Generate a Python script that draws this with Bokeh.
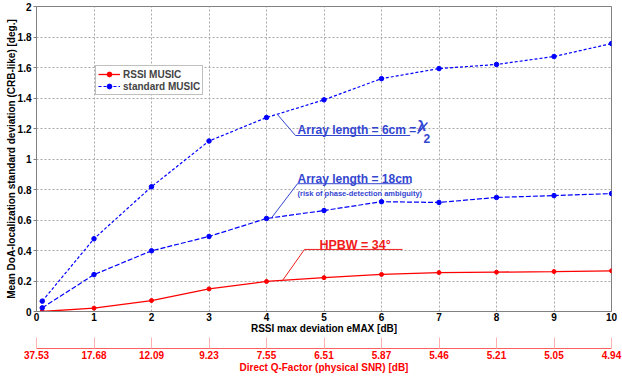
from bokeh.plotting import figure
from bokeh.models import (LinearAxis, FixedTicker, Legend, LegendItem, Label)
from bokeh.embed import file_html
from bokeh.resources import INLINE

# ---------------- data ----------------
emax = [0.1, 1, 2, 3, 4, 5, 6, 7, 8, 9, 10]
rssi_music = [0.0, 0.022, 0.072, 0.148, 0.197, 0.222, 0.243, 0.255, 0.258, 0.262, 0.267]
std_music_6cm = [0.068, 0.477, 0.818, 1.118, 1.272, 1.388, 1.527, 1.593, 1.62, 1.672, 1.757]
std_music_18cm = [0.024, 0.242, 0.398, 0.492, 0.61, 0.662, 0.72, 0.715, 0.748, 0.76, 0.773]

x_ticks = [0, 1, 2, 3, 4, 5, 6, 7, 8, 9, 10]
y_ticks = [0, 0.2, 0.4, 0.6, 0.8, 1.0, 1.2, 1.4, 1.6, 1.8, 2.0]
y_tick_labels = ["0", "0.2", "0.4", "0.6", "0.8", "1", "1.2", "1.4", "1.6", "1.8", "2"]
q_factor_labels = ["37.53", "17.68", "12.09", "9.23", "7.55", "6.51", "5.87",
                   "5.46", "5.21", "5.05", "4.94"]

FONT = "Liberation Sans"
RED = "#ff0000"
BLUE = "#0000ff"
ANN_BLUE = "#3346d0"
ANN_RED = "#f01c1c"
FRAME = "#808080"

p = figure(width=622, height=378, x_range=(0, 10), y_range=(0, 2),
           output_backend="svg", toolbar_location=None,
           min_border_left=36, min_border_right=11, min_border_top=6,
           min_border_bottom=67)
p.outline_line_color = FRAME
p.outline_line_width = 1
p.background_fill_color = "white"
p.border_fill_color = "white"

# grid
for g in (p.xgrid[0], p.ygrid[0]):
    g.grid_line_color = "#a8a8a8"
    g.grid_line_dash = "2 2"
    g.grid_line_width = 1

# main x axis
xa = p.xaxis[0]
xa.ticker = FixedTicker(ticks=x_ticks)
xa.axis_line_color = FRAME
xa.major_tick_in = 0
xa.major_tick_out = 0
xa.minor_tick_line_color = None
xa.major_label_standoff = 1
xa.major_label_text_font = FONT
xa.major_label_text_font_style = "bold"
xa.major_label_text_font_size = "10px"
xa.major_label_text_color = "black"
xa.axis_label = "RSSI max deviation eMAX [dB]"
xa.axis_label_text_font = FONT
xa.axis_label_text_font_style = "bold"
xa.axis_label_text_font_size = "10px"
xa.axis_label_text_color = "black"
xa.axis_label_standoff = -1

# y axis
ya = p.yaxis[0]
ya.ticker = FixedTicker(ticks=y_ticks)
ya.major_label_overrides = {t: l for t, l in zip(y_ticks, y_tick_labels)}
ya.axis_line_color = FRAME
ya.major_tick_in = 0
ya.major_tick_out = 3
ya.major_tick_line_color = FRAME
ya.minor_tick_line_color = None
ya.major_label_standoff = 2
ya.major_label_text_font = FONT
ya.major_label_text_font_style = "bold"
ya.major_label_text_font_size = "10px"
ya.major_label_text_color = "black"
ya.axis_label = "Mean DoA-localization standard deviation (CRB-like) [deg.]"
ya.axis_label_text_font = FONT
ya.axis_label_text_font_style = "bold"
ya.axis_label_text_font_size = "10px"
ya.axis_label_text_color = "black"
ya.axis_label_standoff = -2

# spacer axis between the two x axes
spacer = LinearAxis(ticker=FixedTicker(ticks=[]), axis_line_color=None,
                    major_tick_in=0, major_tick_out=0,
                    minor_tick_line_color=None, axis_label=" ",
                    axis_label_text_font_size="8px", axis_label_standoff=0)
p.add_layout(spacer, "below")

# secondary (Q-factor) axis
qa = LinearAxis(ticker=FixedTicker(ticks=x_ticks))
qa.major_label_overrides = {t: l for t, l in zip(x_ticks, q_factor_labels)}
qa.axis_line_color = "#ff6060"
qa.major_tick_line_color = "#ffb0b0"
qa.major_tick_in = 11
qa.major_tick_out = 0
qa.minor_tick_line_color = None
qa.major_label_standoff = 2
qa.major_label_text_font = FONT
qa.major_label_text_font_style = "bold"
qa.major_label_text_font_size = "10px"
qa.major_label_text_color = RED
qa.axis_label = "Direct Q-Factor (physical SNR) [dB]"
qa.axis_label_text_font = FONT
qa.axis_label_text_font_style = "bold"
qa.axis_label_text_font_size = "10px"
qa.axis_label_text_color = RED
qa.axis_label_standoff = 0
p.add_layout(qa, "below")

# series
r_line = p.line(emax, rssi_music, line_color=RED, line_width=1.3)
r_pts = p.scatter(emax, rssi_music, size=4, marker="circle",
                  fill_color=RED, line_color=RED)
b6_line = p.line(emax, std_music_6cm, line_color=BLUE, line_width=1.2,
                 line_dash="3 2")
b6_pts = p.scatter(emax, std_music_6cm, size=4.5, marker="circle",
                   fill_color=BLUE, line_color=BLUE)
b18_line = p.line(emax, std_music_18cm, line_color=BLUE, line_width=1.2,
                  line_dash="5 2")
b18_pts = p.scatter(emax, std_music_18cm, size=4.5, marker="circle",
                    fill_color=BLUE, line_color=BLUE)

legend = Legend(items=[LegendItem(label="RSSI MUSIC", renderers=[r_line, r_pts]),
                       LegendItem(label="standard MUSIC", renderers=[b6_line, b6_pts])],
                location=(59, 216))
legend.label_text_font = FONT
legend.label_text_font_style = "bold"
legend.label_text_font_size = "10px"
legend.label_height = 12
legend.glyph_height = 12
legend.glyph_width = 22
legend.label_standoff = 3
legend.spacing = 0
legend.padding = 2
legend.margin = 0
legend.border_line_color = FRAME
legend.border_line_width = 1
legend.background_fill_color = "white"
p.add_layout(legend, "center")

# ---------------- annotations ----------------
# 6 cm
p.line([4.19, 4.504, 6.5], [1.292, 1.154, 1.154], line_color=ANN_BLUE, line_width=1)
p.add_layout(Label(x=4.54, y=1.187, text="Array length = 6cm =", text_font=FONT,
                   text_font_style="bold", text_font_size="12px",
                   text_color=ANN_BLUE, text_baseline="alphabetic"))
p.add_layout(Label(x=6.626, y=1.22, text="λ", text_font=FONT,
                   text_font_style="bold", text_font_size="15px",
                   text_color=ANN_BLUE, text_baseline="alphabetic"))
p.add_layout(Label(x=6.73, y=1.134, text="2", text_font=FONT,
                   text_font_style="bold", text_font_size="12px",
                   text_color=ANN_BLUE, text_baseline="alphabetic"))
p.line([6.626, 6.80], [1.167, 1.239], line_color=ANN_BLUE, line_width=1.5)

# 18 cm
p.line([4.087, 4.539, 6.504], [0.614, 0.838, 0.838], line_color=ANN_BLUE, line_width=1)
p.add_layout(Label(x=4.539, y=0.866, text="Array length = 18cm", text_font=FONT,
                   text_font_style="bold", text_font_size="12px",
                   text_color=ANN_BLUE, text_baseline="alphabetic"))
p.add_layout(Label(x=4.539, y=0.775, text="(risk of phase-detection ambiguity)",
                   text_font=FONT, text_font_style="bold", text_font_size="7.5px",
                   text_color=ANN_BLUE, text_baseline="alphabetic"))

# HPBW
p.line([4.278, 4.661, 6.365], [0.203, 0.407, 0.407], line_color=ANN_RED, line_width=1)
p.add_layout(Label(x=4.92, y=0.439, text="HPBW = 34°", text_font=FONT,
                   text_font_style="bold", text_font_size="12.5px",
                   text_color=ANN_RED, text_baseline="alphabetic"))

open("out.html", "w").write(file_html(p, INLINE))
